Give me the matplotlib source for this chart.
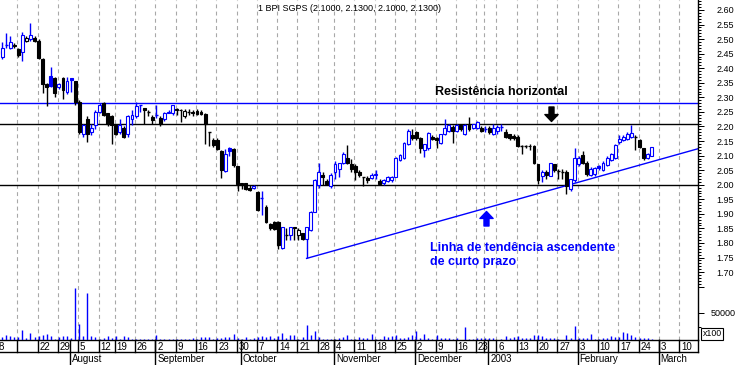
import numpy as np
import pandas as pd
import matplotlib
matplotlib.use("Agg")
import matplotlib.pyplot as plt
from matplotlib.patches import Rectangle
from matplotlib.lines import Line2D
from matplotlib.transforms import blended_transform_factory

plt.rcParams['font.family'] = ['Liberation Sans', 'DejaVu Sans']

# ---------------- data ----------------
ticker = "1 BPI SGPS"
start_date = "2002-07-08"
axis_end_date = "2003-03-14"
holidays = ["2002-08-15", "2002-11-01", "2002-12-24", "2002-12-25",
            "2002-12-26", "2002-12-31", "2003-01-01"]

opens = [
    2.46, 2.44, 2.48, 2.47, 2.48, 2.465, 2.455, 2.495, 2.50, 2.505,
    2.495, 2.43, 2.345, 2.375, 2.365, 2.335, 2.365, 2.32, 2.365, 2.355,
    2.285, 2.175, 2.225, 2.18, 2.205, 2.25, 2.28, 2.245, 2.235, 2.205,
    2.18, 2.195, 2.175, 2.225, 2.235, 2.275, 2.262, 2.248, 2.232, 2.24,
    2.23, 2.226, 2.246, 2.245, 2.26, 2.256, 2.235, 2.25, 2.25, 2.253,
    2.248, 2.242, 2.18, 2.154, 2.154, 2.116, 2.047, 2.125, 2.122, 2.064,
    2.007, 2.007, 1.99, 1.988, 1.976, 1.953, 1.925, 1.865, 1.872, 1.873,
    1.782, 1.827, 1.827, 1.855, 1.827, 1.833, 1.812, 1.844, 1.908, 1.999,
    2.034, 2.014, 1.996, 2.045, 2.053, 2.074, 2.091, 2.07, 2.064, 2.045,
    2.026, 2.024, 2.024, 2.035, 2.013, 2.007, 2.014, 2.016, 2.027, 2.085,
    2.091, 2.139, 2.17, 2.18, 2.16, 2.119, 2.125, 2.165, 2.16, 2.142,
    2.173, 2.184, 2.199, 2.184, 2.205, 2.173, 2.205, 2.194, 2.194, 2.196,
    2.19, 2.194, 2.173, 2.185, 2.199, 2.182, 2.173, 2.168, 2.165, 2.134,
    2.134, 2.134, 2.133, 2.07, 2.031, 2.042, 2.031, 2.07, 2.047, 2.045,
    2.042, 1.985, 2.016, 2.07, 2.102, 2.074, 2.033, 2.036, 2.065, 2.051,
    2.068, 2.085, 2.091, 2.148, 2.155, 2.157, 2.165, 2.163, 2.153, 2.125,
    2.091, 2.10]

highs = [
    2.49, 2.49, 2.52, 2.51, 2.485, 2.47, 2.525, 2.51, 2.555, 2.51,
    2.50, 2.435, 2.35, 2.405, 2.37, 2.35, 2.37, 2.37, 2.365, 2.355,
    2.29, 2.21, 2.235, 2.21, 2.255, 2.28, 2.285, 2.245, 2.24, 2.21,
    2.225, 2.20, 2.24, 2.255, 2.285, 2.275, 2.265, 2.256, 2.24, 2.275,
    2.235, 2.25, 2.255, 2.275, 2.265, 2.26, 2.26, 2.26, 2.255, 2.26,
    2.255, 2.245, 2.18, 2.16, 2.16, 2.12, 2.124, 2.13, 2.125, 2.065,
    2.007, 2.007, 2.0, 2.0, 1.98, 1.98, 1.93, 1.87, 1.875, 1.875,
    1.856, 1.85, 1.856, 1.856, 1.85, 1.835, 1.856, 1.91, 2.02, 2.076,
    2.045, 2.02, 2.04, 2.08, 2.076, 2.112, 2.136, 2.09, 2.07, 2.05,
    2.028, 2.03, 2.04, 2.05, 2.02, 2.02, 2.03, 2.03, 2.095, 2.105,
    2.145, 2.193, 2.193, 2.185, 2.165, 2.14, 2.18, 2.17, 2.165, 2.175,
    2.226, 2.21, 2.205, 2.21, 2.21, 2.21, 2.234, 2.21, 2.22, 2.20,
    2.20, 2.20, 2.21, 2.205, 2.21, 2.19, 2.175, 2.175, 2.17, 2.135,
    2.138, 2.14, 2.135, 2.07, 2.05, 2.05, 2.075, 2.072, 2.055, 2.055,
    2.05, 2.02, 2.125, 2.10, 2.117, 2.08, 2.06, 2.06, 2.068, 2.08,
    2.10, 2.11, 2.14, 2.17, 2.17, 2.18, 2.205, 2.17, 2.158, 2.125,
    2.11, 2.13]

lows = [
    2.44, 2.43, 2.47, 2.465, 2.47, 2.44, 2.425, 2.49, 2.495, 2.49,
    2.43, 2.315, 2.27, 2.335, 2.30, 2.33, 2.295, 2.31, 2.32, 2.275,
    2.175, 2.165, 2.145, 2.17, 2.19, 2.245, 2.235, 2.20, 2.14, 2.17,
    2.175, 2.16, 2.165, 2.205, 2.23, 2.25, 2.21, 2.237, 2.21, 2.23,
    2.20, 2.22, 2.245, 2.24, 2.24, 2.215, 2.23, 2.24, 2.235, 2.24,
    2.24, 2.14, 2.134, 2.13, 2.12, 2.024, 2.045, 2.10, 2.06, 1.978,
    1.985, 1.982, 1.98, 1.985, 1.91, 1.896, 1.87, 1.845, 1.845, 1.778,
    1.778, 1.81, 1.81, 1.81, 1.81, 1.81, 1.747, 1.84, 1.905, 1.99,
    2.0, 2.0, 1.99, 2.02, 2.028, 2.07, 2.07, 2.045, 2.016, 2.025,
    1.997, 2.005, 2.02, 2.02, 2.0, 2.0, 2.01, 2.01, 2.025, 2.08,
    2.09, 2.135, 2.155, 2.155, 2.11, 2.096, 2.12, 2.155, 2.125, 2.14,
    2.17, 2.18, 2.142, 2.18, 2.185, 2.17, 2.185, 2.19, 2.19, 2.18,
    2.18, 2.175, 2.17, 2.175, 2.185, 2.16, 2.155, 2.155, 2.13, 2.105,
    2.125, 2.12, 2.07, 2.001, 2.01, 2.02, 2.03, 2.045, 2.02, 2.02,
    1.967, 1.98, 2.01, 2.065, 2.07, 2.03, 2.03, 2.03, 2.05, 2.048,
    2.065, 2.08, 2.09, 2.14, 2.15, 2.155, 2.16, 2.12, 2.125, 2.085,
    2.09, 2.10]

closes = [
    2.45, 2.47, 2.48, 2.49, 2.475, 2.445, 2.515, 2.505, 2.515, 2.495,
    2.435, 2.345, 2.335, 2.34, 2.315, 2.345, 2.325, 2.355, 2.36, 2.285,
    2.18, 2.205, 2.175, 2.195, 2.25, 2.275, 2.24, 2.21, 2.205, 2.175,
    2.205, 2.165, 2.235, 2.24, 2.27, 2.275, 2.255, 2.248, 2.223, 2.24,
    2.207, 2.245, 2.25, 2.274, 2.258, 2.255, 2.252, 2.25, 2.245, 2.244,
    2.242, 2.207, 2.18, 2.136, 2.123, 2.05, 2.104, 2.116, 2.067, 2.003,
    1.999, 1.985, 1.983, 1.996, 1.913, 1.953, 1.873, 1.85, 1.848, 1.793,
    1.854, 1.827, 1.854, 1.85, 1.845, 1.812, 1.854, 1.908, 2.016, 2.045,
    2.025, 2.003, 2.034, 2.072, 2.074, 2.105, 2.073, 2.053, 2.045, 2.035,
    2.026, 2.015, 2.033, 2.036, 2.004, 2.016, 2.025, 2.027, 2.091, 2.102,
    2.142, 2.184, 2.162, 2.16, 2.125, 2.139, 2.176, 2.157, 2.155, 2.173,
    2.194, 2.205, 2.184, 2.205, 2.191, 2.205, 2.191, 2.207, 2.216, 2.185,
    2.19, 2.182, 2.194, 2.197, 2.199, 2.165, 2.162, 2.16, 2.134, 2.134,
    2.134, 2.133, 2.074, 2.016, 2.045, 2.033, 2.073, 2.05, 2.047, 2.045,
    1.997, 2.02, 2.091, 2.093, 2.074, 2.036, 2.054, 2.056, 2.058, 2.074,
    2.091, 2.105, 2.136, 2.157, 2.165, 2.175, 2.177, 2.163, 2.13, 2.091,
    2.105, 2.13]

volumes = [  # in units of x100
    4000, 5000, 9300, 7400, 5000, 5000, 18500, 3100, 13000, 5600,
    7400, 9300, 11100, 7400, 1500, 5000, 7400, 7400, 3100, 96000,
    29600, 7400, 87000, 7400, 5600, 1200, 3700, 7400, 3700, 7400,
    1000, 7400, 5600, 1800, 1800, 1800, 1800, 1800, 1800, 9300,
    1500, 1500, 1500, 1500, 1500, 1500, 1500, 1500, 3700, 1500,
    5600, 5600, 5600, 1200, 3700, 3700, 5600, 5600, 11100, 3700,
    1200, 5600, 1200, 3700, 5600, 7400, 5600, 7400, 3700, 7400,
    13000, 3700, 9300, 9300, 1200, 5600, 27800, 9300, 16700, 5600,
    1200, 1200, 1200, 1200, 3100, 6100, 9300, 1850, 1500, 6100,
    4300, 4300, 11100, 1850, 1200, 7400, 6100, 7400, 9300, 4300,
    4300, 6100, 9300, 16700, 4300, 11100, 3100, 1850, 9300, 4300,
    3100, 4300, 1850, 3100, 900, 24000, 1200, 1200, 3100, 3100,
    4300, 3100, 3100, 900, 1200, 7400, 4300, 6100, 7400, 4300,
    3100, 3100, 9300, 9300, 7400, 3100, 3100, 4300, 1500, 900,
    9300, 4300, 26000, 4300, 3100, 4300, 11100, 1200, 1200, 3100,
    4300, 7400, 6100, 6100, 14800, 13500, 9300, 6100, 4300, 4300,
    3100, 1500]

level_values = [2.28, 2.21, 2.00]
level_colors = ["#0000ff", "black", "black"]
trend_dates = ["2002-10-23", "2003-01-29"]
trend_values = [1.747, 1.997]
price_ticks = [1.65, 1.70, 1.75, 1.80, 1.85, 1.90, 1.95, 2.00, 2.05, 2.10,
               2.15, 2.20, 2.25, 2.30, 2.35, 2.40, 2.45, 2.50, 2.55, 2.60]
volume_ticks = [50000]
hidden_week_labels = ["2002-07-15", "2002-12-30"]

# ---------------- layout ----------------
BLUE = "#0000ff"
W, H = 738, 365
R, B = 698, 340          # plot right edge / bottom in pixels
ROW1, ROW2 = 352, 365    # bottom of date row / month row

cal = pd.bdate_range(start_date, axis_end_date)
cal = cal[~cal.isin(pd.to_datetime(holidays))]
pos = pd.Series(np.arange(len(cal)), index=cal)
n = len(closes)
x = np.arange(n)

fig = plt.figure(figsize=(W / 100, H / 100), dpi=100)
ax = fig.add_axes([0, 1 - B / H, R / W, B / H])
xmin, xmax = 0.49, len(cal) - 0.6
ymin, ymax = 1.4668, 2.6343
ax.set_xlim(xmin, xmax)
ax.set_ylim(ymin, ymax)

def px2x(px):
    return xmin + px / R * (xmax - xmin)

def py2y(py):
    return ymax - py / B * (ymax - ymin)

# weekly dashed grid
weeks = pos.groupby(cal.to_period("W")).first()
months = pos.groupby(cal.to_period("M")).first()
for per, wi in weeks.items():
    ax.axvline(wi - 0.25, color="#a8a8a8", lw=0.8, ls=(0, (3.5, 3)), zorder=0)

# horizontal levels
for lv, lc in zip(level_values, level_colors):
    ax.axhline(lv, color=lc, lw=1.0, zorder=2)

# trend line
tx = [pos[pd.Timestamp(d)] for d in trend_dates]
slope = (trend_values[1] - trend_values[0]) / (tx[1] - tx[0])
ax.plot([tx[0], xmax], [trend_values[0], trend_values[0] + slope * (xmax - tx[0])],
        color=BLUE, lw=1.0, zorder=2)

# candles
o = np.array(opens); h = np.array(highs); l = np.array(lows); c = np.array(closes)
prev = np.r_[o[0], c[:-1]]
bw = 0.72
for i in range(n):
    col = BLUE if c[i] > prev[i] else "black"
    ax.vlines(i, l[i], h[i], color=col, lw=1.0, zorder=3)
    if abs(c[i] - o[i]) < 1e-9:
        ax.hlines(o[i], i - bw / 2, i + bw / 2, color=col, lw=1.0, zorder=4)
    else:
        filled = c[i] < o[i]
        ax.add_patch(Rectangle((i - bw / 2, min(o[i], c[i])), bw, abs(c[i] - o[i]),
                               facecolor=col if filled else "white", edgecolor=col,
                               lw=0.8, zorder=4))

# spines / ticks (price)
for s in ["top", "left"]:
    ax.spines[s].set_visible(False)
for s in ["right", "bottom"]:
    ax.spines[s].set_color("black")
    ax.spines[s].set_linewidth(1.0)
ax.tick_params(axis="x", which="both", bottom=False, labelbottom=False)
ax.set_yticks(price_ticks)
ax.set_yticklabels(["" if abs(t - 1.65) < 1e-9 else f"{t:.2f}" for t in price_ticks],
                   ha="right")
ax.set_yticks(np.arange(1.66, 2.635, 0.01), minor=True)
ax.tick_params(axis="y", which="both", left=False, labelleft=False, right=True,
               labelright=True, direction="out", width=0.72, colors="black")
ax.tick_params(axis="y", which="major", length=4.3, pad=21.5, labelsize=6.5)
ax.tick_params(axis="y", which="minor", length=2.2)

# volume axes
axv = fig.add_axes([0, 1 - B / H, R / W, B / H], frameon=False)
axv.set_xlim(xmin, xmax)
axv.set_ylim(0, 50000 * B / 27)
axv.vlines(x, 0, volumes, color=BLUE, lw=1.0)
axv.tick_params(axis="x", which="both", bottom=False, labelbottom=False)
axv.yaxis.tick_right()
axv.set_yticks(volume_ticks)
axv.set_yticklabels([str(v) for v in volume_ticks], ha="right")
axv.set_yticks([25000], minor=True)
axv.tick_params(axis="y", which="both", left=False, direction="out", width=0.72)
axv.tick_params(axis="y", which="major", length=4.3, pad=23, labelsize=6.5)
axv.tick_params(axis="y", which="minor", length=2.2)
fig.text(702.5 / W, 1 - 334 / H, "x100", fontsize=6.3, ha="left", va="center",
         bbox=dict(boxstyle="square,pad=0.15", fc="white", ec="black", lw=0.8))

# title from last bar
fig.text(349 / W, 1 - 8.5 / H,
         f"{ticker} ({o[-1]:.4f}, {h[-1]:.4f}, {l[-1]:.4f}, {c[-1]:.4f})",
         fontsize=6.5, ha="center", va="center")

# annotations
fig.text(435 / W, 1 - 95 / H, "Resistência horizontal", fontsize=9,
         fontweight="bold", color="black", ha="left", va="baseline")
fig.text(430 / W, 1 - 251 / H, "Linha de tendência ascendente", fontsize=9,
         fontweight="bold", color=BLUE, ha="left", va="baseline")
fig.text(430 / W, 1 - 265.5 / H, "de curto prazo", fontsize=9,
         fontweight="bold", color=BLUE, ha="left", va="baseline")
arrow_style = "simple,head_length=0.5,head_width=0.95,tail_width=0.36"
ax.annotate("", xy=(px2x(551.5), py2y(121.5)), xytext=(px2x(551.5), py2y(107)),
            arrowprops=dict(arrowstyle=arrow_style, mutation_scale=10,
                            color="black", shrinkA=0, shrinkB=0), zorder=6)
ax.annotate("", xy=(px2x(486.5), py2y(211.5)), xytext=(px2x(486.5), py2y(226)),
            arrowprops=dict(arrowstyle=arrow_style, mutation_scale=10,
                            color=BLUE, shrinkA=0, shrinkB=0), zorder=6)

# date rows under the plot
bt = blended_transform_factory(ax.transData, fig.transFigure)
fy = lambda py: 1 - py / H
fig.add_artist(Line2D([0, R / W], [fy(ROW1), fy(ROW1)], transform=fig.transFigure,
                      color="black", lw=1.0))
fig.add_artist(Line2D([R / W, R / W], [fy(B), fy(ROW1)], transform=fig.transFigure,
                      color="black", lw=1.0))
hidden = set(pd.to_datetime(hidden_week_labels))
for per, wi in weeks.items():
    xs = wi - 0.25
    if xs < xmin - 1 or xs > xmax:
        continue
    if xs >= xmin:
        fig.add_artist(Line2D([xs, xs], [fy(B), fy(ROW1)], transform=bt,
                              color="black", lw=1.0))
    if cal[wi] in hidden:
        continue
    t = fig.text(0, 0, str(per.start_time.day), fontsize=7, ha="left", va="center",
                 transform=bt)
    t.set_position((xs + 0.45, fy((B + ROW1) / 2 + 0.5)))
for per, mi in months.items():
    if mi == 0:
        continue
    xs = mi - 0.25
    fig.add_artist(Line2D([xs, xs], [fy(B), fy(ROW2)], transform=bt,
                          color="black", lw=1.0))
    name = str(per.year) if per.month == 1 else per.start_time.strftime("%B")
    t = fig.text(0, 0, name, fontsize=7, ha="left", va="center", transform=bt)
    t.set_position((xs + 0.45, fy((ROW1 + ROW2) / 2 + 0.5)))

fig.savefig("out.png", dpi=100)
